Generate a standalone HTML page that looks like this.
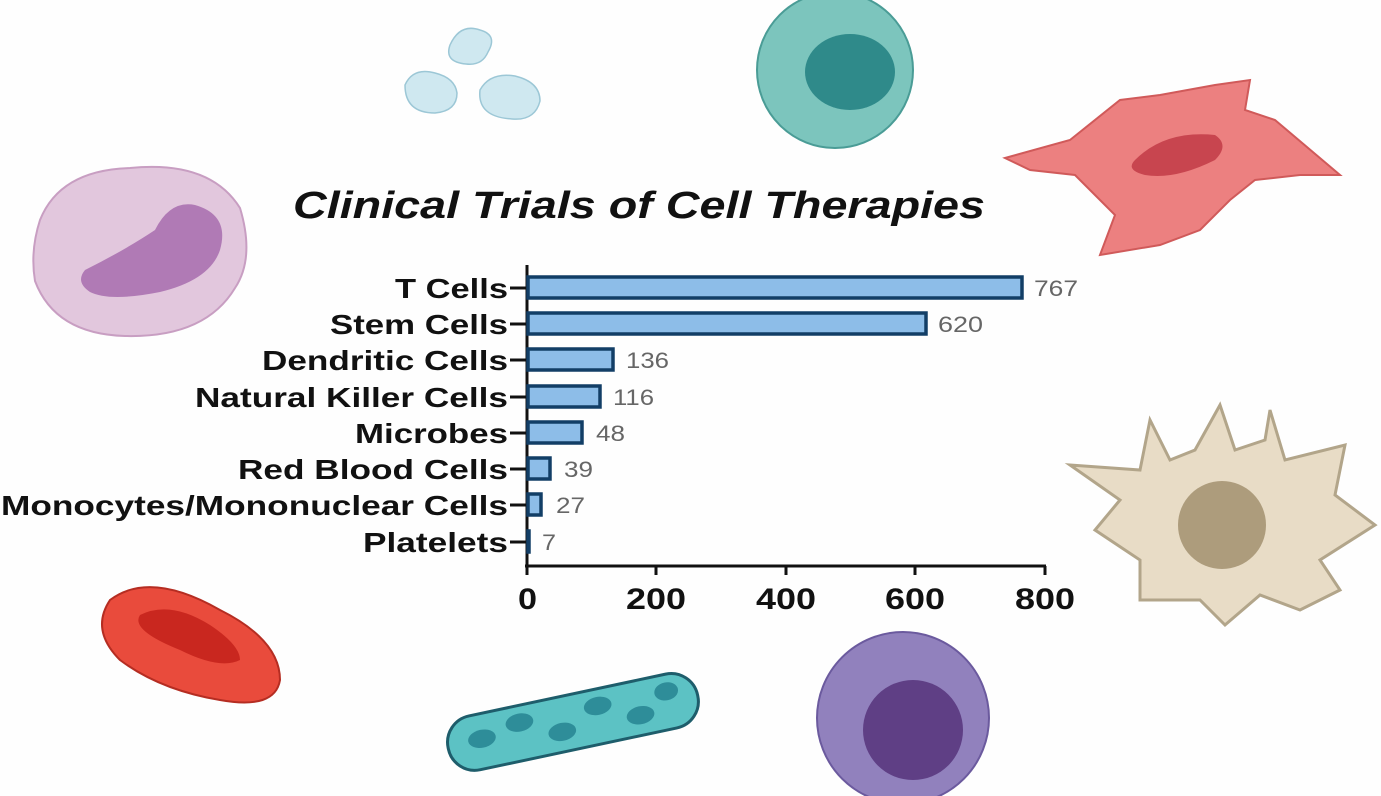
<!DOCTYPE html>
<html><head><meta charset="utf-8"><style>
html,body{margin:0;padding:0;background:#fff;}
svg{display:block}
</style></head><body>
<svg width="1381" height="796" viewBox="0 0 1381 796" xmlns="http://www.w3.org/2000/svg">
<rect width="1381" height="796" fill="#fefefe"/>
<!-- platelets -->
<g fill="#cfe8f0" stroke="#9cc7d6" stroke-width="1.5">
<path d="M450,45 q10,-22 30,-15 q18,5 8,22 q-6,14 -22,12 q-22,-2 -16,-19z"/>
<path d="M405,85 q8,-18 30,-12 q20,5 22,20 q0,18 -22,20 q-30,0 -30,-28z"/>
<path d="M480,90 q10,-18 35,-14 q25,6 25,25 q-5,20 -28,18 q-35,-2 -32,-29z"/>
</g>
<!-- teal cell -->
<circle cx="835" cy="70" r="78" fill="#7cc5bd" stroke="#4a9c96" stroke-width="2"/>
<ellipse cx="850" cy="72" rx="45" ry="38" fill="#2f8a8a"/>
<!-- red fibroblast -->
<path d="M1005,158 L1070,140 L1120,100 L1160,95 L1215,85 L1250,80 L1245,110 L1275,120 L1340,175 L1300,175 L1255,180 L1230,200 L1200,230 L1160,245 L1100,255 L1115,215 L1075,175 L1030,170 Z" fill="#ec8080" stroke="#d05a5a" stroke-width="2"/>
<path d="M1135,160 q30,-30 80,-25 q15,10 0,25 q-40,20 -70,15 q-20,-5 -10,-15z" fill="#c8454f"/>
<!-- purple cell top-left -->
<path d="M40,220 q20,-50 90,-52 q80,-8 110,40 q15,50 -5,80 q-30,50 -110,48 q-70,-2 -90,-55 q-5,-30 5,-61z" fill="#e2c7dd" stroke="#c89ec2" stroke-width="2"/>
<path d="M85,270 q40,-20 70,-40 q15,-30 40,-25 q35,10 25,45 q-10,30 -60,42 q-50,10 -70,0 q-15,-10 -5,-22z" fill="#b07ab5"/>
<!-- red blood cell -->
<path d="M110,600 q40,-30 110,10 q60,30 60,70 q-5,30 -60,20 q-60,-10 -100,-40 q-30,-30 -10,-60z" fill="#e94b3c" stroke="#b52d22" stroke-width="2"/>
<path d="M140,615 q30,-15 70,10 q30,20 30,35 q-20,10 -60,-10 q-50,-20 -40,-35z" fill="#c9271f"/>
<!-- bacterium -->
<g transform="rotate(-12 570 720)">
<rect x="445" y="695" width="255" height="55" rx="27" fill="#5cc2c4" stroke="#1e5d6b" stroke-width="3"/>
<g fill="#2e8d99">
<ellipse cx="480" cy="720" rx="14" ry="9"/><ellipse cx="520" cy="712" rx="14" ry="9"/><ellipse cx="560" cy="730" rx="14" ry="9"/><ellipse cx="600" cy="712" rx="14" ry="9"/><ellipse cx="640" cy="730" rx="14" ry="9"/><ellipse cx="670" cy="712" rx="12" ry="9"/>
</g></g>
<!-- purple bottom cell -->
<circle cx="903" cy="718" r="86" fill="#9181bd" stroke="#6b5a9e" stroke-width="2"/>
<circle cx="913" cy="730" r="50" fill="#5f3f85"/>
<!-- beige dendritic -->
<path d="M1070,465 L1140,470 L1150,420 L1170,460 L1195,450 L1220,405 L1235,450 L1265,440 L1270,410 L1285,460 L1345,445 L1335,495 L1375,525 L1320,560 L1340,590 L1300,610 L1260,595 L1225,625 L1200,600 L1140,600 L1140,560 L1095,530 L1120,500 Z" fill="#e8dcc6" stroke="#b2a58a" stroke-width="3"/>
<circle cx="1222" cy="525" r="44" fill="#ad9c7c"/>
<!-- title -->
<text x="293" y="218" font-family="Liberation Sans, sans-serif" font-size="38" font-weight="bold" font-style="italic" fill="#111" textLength="692" lengthAdjust="spacingAndGlyphs">Clinical Trials of Cell Therapies</text>
<!-- axes -->
<g stroke="#111" stroke-width="3" fill="none">
<line x1="527" y1="265" x2="527" y2="567"/>
<line x1="525" y1="566" x2="1046" y2="566"/>
<line x1="527" y1="566" x2="527" y2="575"/><line x1="656" y1="566" x2="656" y2="575"/><line x1="786" y1="566" x2="786" y2="575"/><line x1="915" y1="566" x2="915" y2="575"/><line x1="1045" y1="566" x2="1045" y2="575"/>
<line x1="510" y1="288" x2="527" y2="288"/><line x1="510" y1="324" x2="527" y2="324"/><line x1="510" y1="360" x2="527" y2="360"/><line x1="510" y1="397" x2="527" y2="397"/><line x1="510" y1="433" x2="527" y2="433"/><line x1="510" y1="469" x2="527" y2="469"/><line x1="510" y1="505" x2="527" y2="505"/><line x1="510" y1="542" x2="527" y2="542"/>
</g>
<g fill="#8dbde8" stroke="#123e66" stroke-width="3.5">
<rect x="528" y="277" width="494" height="21"/>
<rect x="528" y="313" width="398" height="21"/>
<rect x="528" y="349" width="85" height="21"/>
<rect x="528" y="386" width="72" height="21"/>
<rect x="528" y="422" width="54" height="21"/>
<rect x="528" y="458" width="22" height="21"/>
<rect x="528" y="494" width="13" height="21"/>
<rect x="528" y="531" width="1" height="21"/>
</g>
<g font-family="Liberation Sans, sans-serif" font-size="22" fill="#666">
<text x="1034" y="296" textLength="44" lengthAdjust="spacingAndGlyphs">767</text><text x="938" y="332" textLength="45" lengthAdjust="spacingAndGlyphs">620</text><text x="626" y="368" textLength="43" lengthAdjust="spacingAndGlyphs">136</text><text x="613" y="405" textLength="41" lengthAdjust="spacingAndGlyphs">116</text><text x="596" y="441" textLength="29" lengthAdjust="spacingAndGlyphs">48</text><text x="564" y="477" textLength="29" lengthAdjust="spacingAndGlyphs">39</text><text x="556" y="513" textLength="29" lengthAdjust="spacingAndGlyphs">27</text><text x="542" y="550" textLength="14" lengthAdjust="spacingAndGlyphs">7</text>
</g>
<g font-family="Liberation Sans, sans-serif" font-size="28" font-weight="bold" fill="#111">
<text x="395" y="298" textLength="113" lengthAdjust="spacingAndGlyphs">T Cells</text>
<text x="330" y="334" textLength="178" lengthAdjust="spacingAndGlyphs">Stem Cells</text>
<text x="262" y="370" textLength="246" lengthAdjust="spacingAndGlyphs">Dendritic Cells</text>
<text x="195" y="407" textLength="313" lengthAdjust="spacingAndGlyphs">Natural Killer Cells</text>
<text x="355" y="443" textLength="153" lengthAdjust="spacingAndGlyphs">Microbes</text>
<text x="238" y="479" textLength="270" lengthAdjust="spacingAndGlyphs">Red Blood Cells</text>
<text x="1" y="515" textLength="507" lengthAdjust="spacingAndGlyphs">Monocytes/Mononuclear Cells</text>
<text x="363" y="552" textLength="145" lengthAdjust="spacingAndGlyphs">Platelets</text>
</g>
<g font-family="Liberation Sans, sans-serif" font-size="30" font-weight="bold" fill="#111">
<text x="518" y="609" textLength="19" lengthAdjust="spacingAndGlyphs">0</text><text x="626" y="609" textLength="60" lengthAdjust="spacingAndGlyphs">200</text><text x="756" y="609" textLength="60" lengthAdjust="spacingAndGlyphs">400</text><text x="885" y="609" textLength="60" lengthAdjust="spacingAndGlyphs">600</text><text x="1015" y="609" textLength="60" lengthAdjust="spacingAndGlyphs">800</text>
</g>
</svg>
</body></html>
